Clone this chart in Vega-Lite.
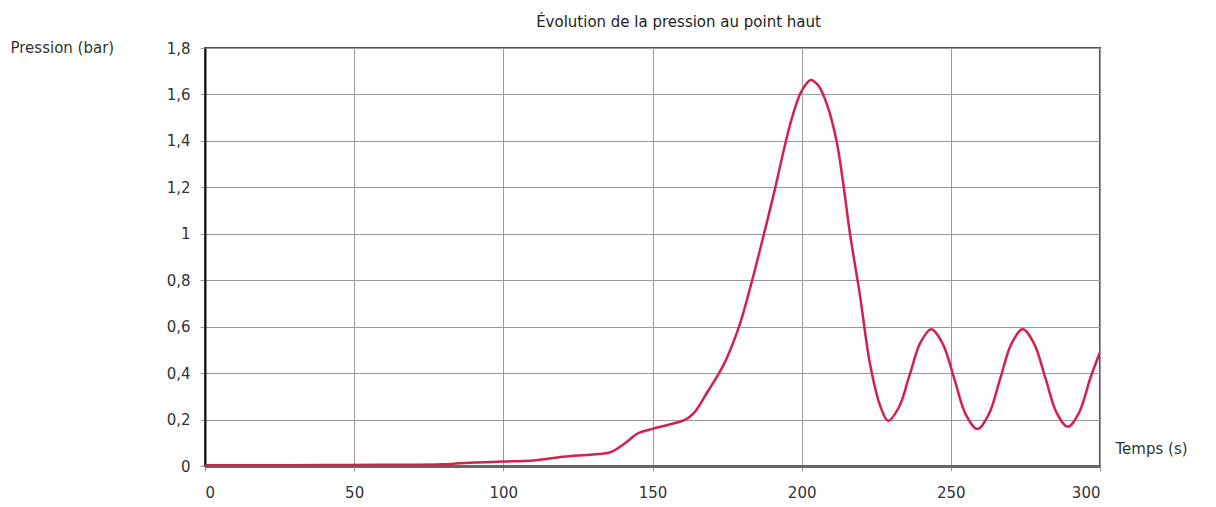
{
  "$schema": "https://vega.github.io/schema/vega-lite/v6.json",
  "autosize": "none",
  "width": 895,
  "height": 418,
  "padding": {"left": 205, "top": 48, "right": 116, "bottom": 41},
  "background": "white",
  "title": {
    "text": "Évolution de la pression au point haut",
    "anchor": "middle",
    "dx": 26,
    "offset": 10,
    "font": "DejaVu Sans",
    "fontSize": 15,
    "fontWeight": "normal",
    "color": "#222"
  },
  "config": {
    "view": {"stroke": "#555", "strokeWidth": 2},
    "axis": {
      "labelFont": "DejaVu Sans",
      "titleFont": "DejaVu Sans",
      "labelFontSize": 15,
      "titleFontSize": 15,
      "labelColor": "#333",
      "titleColor": "#333",
      "titleFontWeight": "normal",
      "gridColor": "#999",
      "gridWidth": 1,
      "gridOpacity": 1,
      "tickColor": "#999",
      "tickSize": 5
    }
  },
  "data": {
    "values": [
      {"t": 0, "p": 0.003},
      {"t": 20, "p": 0.003},
      {"t": 40, "p": 0.004},
      {"t": 60, "p": 0.005},
      {"t": 80, "p": 0.007},
      {"t": 90, "p": 0.015},
      {"t": 100, "p": 0.019},
      {"t": 110, "p": 0.024},
      {"t": 120, "p": 0.04},
      {"t": 130, "p": 0.05},
      {"t": 136, "p": 0.06},
      {"t": 141, "p": 0.1},
      {"t": 145, "p": 0.14},
      {"t": 150, "p": 0.16},
      {"t": 156, "p": 0.18},
      {"t": 161, "p": 0.2},
      {"t": 164, "p": 0.23},
      {"t": 168, "p": 0.31},
      {"t": 174, "p": 0.44},
      {"t": 179, "p": 0.6},
      {"t": 183, "p": 0.78},
      {"t": 187, "p": 0.98},
      {"t": 191, "p": 1.19},
      {"t": 194, "p": 1.36},
      {"t": 197, "p": 1.51},
      {"t": 200, "p": 1.615},
      {"t": 203, "p": 1.662},
      {"t": 205.5, "p": 1.64},
      {"t": 208.4, "p": 1.56},
      {"t": 211.7, "p": 1.4},
      {"t": 214, "p": 1.21},
      {"t": 216.2, "p": 1.0},
      {"t": 219.6, "p": 0.73},
      {"t": 222.9, "p": 0.44},
      {"t": 226.3, "p": 0.26},
      {"t": 229, "p": 0.195},
      {"t": 232.6, "p": 0.253},
      {"t": 236.2, "p": 0.392},
      {"t": 239.8, "p": 0.531},
      {"t": 243.4, "p": 0.589},
      {"t": 247.3, "p": 0.526},
      {"t": 251.2, "p": 0.374},
      {"t": 255, "p": 0.222},
      {"t": 258.9, "p": 0.159},
      {"t": 262.7, "p": 0.222},
      {"t": 266.5, "p": 0.374},
      {"t": 270.3, "p": 0.526},
      {"t": 274.1, "p": 0.589},
      {"t": 277.9, "p": 0.527},
      {"t": 281.7, "p": 0.379},
      {"t": 285.4, "p": 0.231},
      {"t": 289.2, "p": 0.169},
      {"t": 293, "p": 0.23},
      {"t": 296.8, "p": 0.38},
      {"t": 300, "p": 0.49}
    ]
  },
  "mark": {"type": "line", "color": "#d4214b", "strokeWidth": 2.5, "interpolate": "catmull-rom", "clip": true},
  "encoding": {
    "x": {
      "field": "t",
      "type": "quantitative",
      "scale": {"domain": [0, 300], "nice": false},
      "axis": {
        "values": [0, 50, 100, 150, 200, 250, 300],
        "title": "Temps (s)",
        "titleAngle": 0,
        "titleAlign": "left",
        "titleBaseline": "middle",
        "titleX": 910,
        "titleY": -18,
        "labelPadding": 14,
        "domainColor": "#666",
        "domainWidth": 3
      }
    },
    "y": {
      "field": "p",
      "type": "quantitative",
      "scale": {"domain": [0, 1.8], "nice": false},
      "axis": {
        "values": [0, 0.2, 0.4, 0.6, 0.8, 1, 1.2, 1.4, 1.6, 1.8],
        "labelExpr": "replace(toString(datum.value), '.', ',')",
        "title": "Pression (bar)",
        "titleAngle": 0,
        "titleAlign": "left",
        "titleBaseline": "middle",
        "titleX": -195,
        "titleY": -1,
        "labelPadding": 10,
        "domainColor": "#111",
        "domainWidth": 2
      }
    }
  }
}
